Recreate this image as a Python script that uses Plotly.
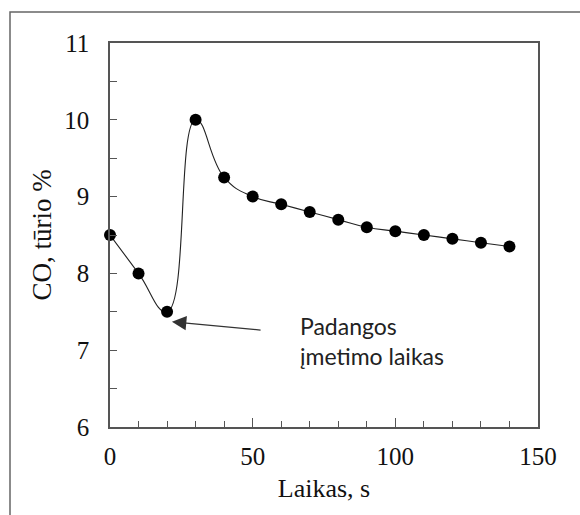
import plotly.graph_objects as go

time_s = [0, 10, 20, 30, 40, 50, 60, 70, 80, 90, 100, 110, 120, 130, 140]
co_pct = [8.5, 8.0, 7.5, 10.0, 9.25, 9.0, 8.9, 8.8, 8.7, 8.6, 8.55, 8.5, 8.45, 8.4, 8.35]

x_title = "Laikas, s"
y_title = "CO, tūrio %"
note_text = "Padangos<br>įmetimo laikas"
x_ticks = [0, 50, 100, 150]
y_ticks = [6, 7, 8, 9, 10, 11]

serif = "Liberation Serif"
axis_col = "#555555"

fig = go.Figure()
fig.add_trace(go.Scatter(
    x=time_s, y=co_pct, mode="lines+markers",
    line=dict(color="#222222", width=1.1, shape="spline", smoothing=1.3),
    marker=dict(color="black", size=12),
    showlegend=False, cliponaxis=False,
))

fig.update_layout(
    xaxis=dict(
        range=[0, 150], tickmode="array", tickvals=x_ticks, ticktext=[str(v) for v in x_ticks],
        ticks="inside", ticklen=9, tickwidth=1.3, tickcolor=axis_col,
        minor=dict(dtick=10, ticks="inside", ticklen=6, tickwidth=1.3, tickcolor=axis_col),
        showline=True, linecolor=axis_col, linewidth=1.5, mirror=True,
        showgrid=False, zeroline=False,
        tickfont=dict(family=serif, size=25, color="#111111"),
        ticklabelstandoff=6,
        title=dict(text=x_title, font=dict(family=serif, size=26, color="#111111"), standoff=10),
    ),
    yaxis=dict(
        range=[6, 11], tickmode="array", tickvals=y_ticks,
        ticktext=[str(v) for v in y_ticks],
        ticks="inside", ticklen=7, tickwidth=1.3, tickcolor=axis_col,
        minor=dict(dtick=0.5, ticks="inside", ticklen=7, tickwidth=1.3, tickcolor=axis_col),
        showline=True, linecolor=axis_col, linewidth=1.5, mirror=True,
        showgrid=False, zeroline=False,
        tickfont=dict(family=serif, size=25, color="#111111"),
        ticklabelstandoff=14,
        title=dict(text=y_title, font=dict(family=serif, size=27, color="#111111"), standoff=5),
    ),
)

fig.add_annotation(
    x=21.7, y=7.37, ax=53.3, ay=7.26, axref="x", ayref="y",
    text="", showarrow=True, arrowhead=2, arrowsize=2.4, arrowwidth=1.2,
    arrowcolor="#333333",
)
fig.add_annotation(
    x=65.9, y=7.12, xanchor="left", yanchor="middle", showarrow=False,
    text=note_text, align="left",
    font=dict(family="Lato", size=23, color="#222222"),
)

fig.add_shape(type="rect", xref="paper", yref="paper",
              x0=-100/428, x1=1.2, y0=-0.3, y1=1 + 31/384,
              line=dict(color="#666666", width=1.5), layer="below")

fig.update_layout(
    width=580, height=515,
    margin=dict(l=110, r=42, t=43, b=88),
    paper_bgcolor="white", plot_bgcolor="white",
    font=dict(family=serif, size=25, color="#111111"),
)

fig.write_html("out.html")
